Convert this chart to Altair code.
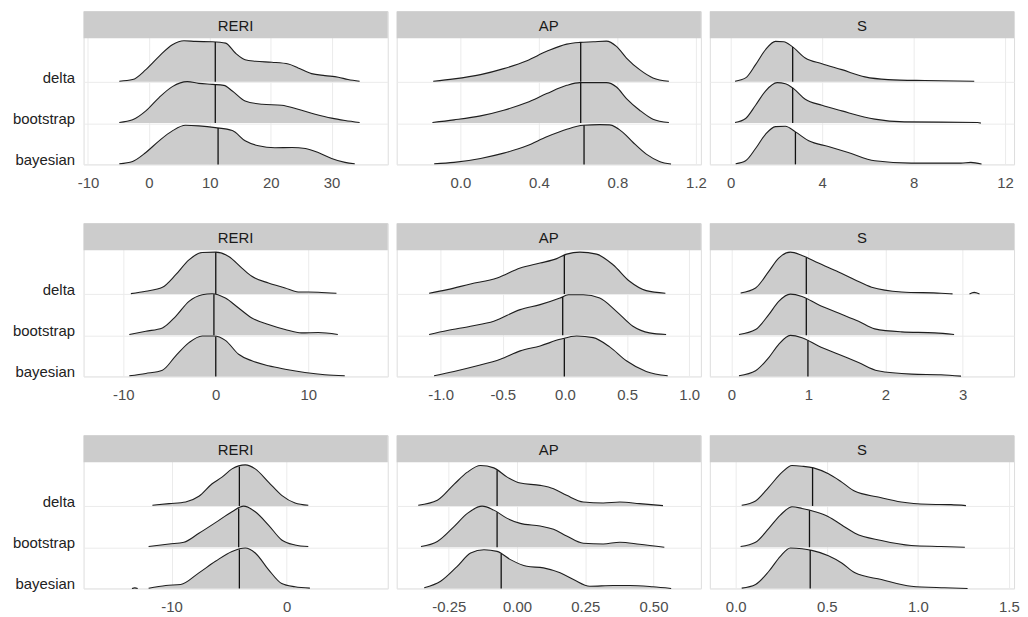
import altair as alt
import pandas as pd
import numpy as np

# ---------------- data (x value, relative ridge height) ----------------
METHODS = ["delta", "bootstrap", "bayesian"]
BASE = {"delta": 2, "bootstrap": 1, "bayesian": 0}
RIDGE_UNIT = 41.5  # ridge heights below are given on this scale (1 unit = gap between ridges)

# Row 1
r1_reri_delta = [[(-4.86, 0.7), (-2.68, 2.3), (-0.5, 12.3), (1.67, 25.7), (3.85, 37.3), (5.76, 41.3), (7.67, 40.7), (10.4, 40.3), (12.6, 39), (14.2, 29), (15.8, 22.3), (17.5, 20.7), (20.2, 19.7), (22.9, 18), (24.5, 14), (26.7, 8.3), (28.9, 6.3), (31.1, 4.7), (32.7, 2.3), (34.6, 0.7)]]
r1_reri_boot = [[(-4.86, 0.7), (-2.68, 3.3), (-0.5, 12.3), (1.67, 25.7), (3.85, 36.7), (6.3, 41.7), (8.2, 40), (10.4, 39), (12.3, 38), (13.7, 32.3), (15.8, 22.3), (18.6, 19), (21.8, 18), (24.5, 14), (27.3, 9), (30, 5), (32.2, 2.7), (34.6, 0.7)]]
r1_reri_bayes = [[(-4.86, 0.7), (-2.68, 3), (-0.5, 12), (1.67, 23.7), (3.85, 33.7), (6.0, 39.3), (8.2, 38.7), (10.9, 37), (13.7, 34), (15.8, 23.7), (18.0, 18.7), (20.7, 16.7), (23.5, 17), (25.7, 16), (27.8, 12), (30, 6), (32.2, 2), (33.8, 0.7)]]
r1_reri_median = [10.9, 10.9, 11.36]

r1_ap_delta = [[(-0.138, 0.7), (-0.032, 3), (0.103, 7.3), (0.221, 13.3), (0.339, 21.3), (0.44, 30.7), (0.542, 38), (0.609, 39.7), (0.677, 40.3), (0.744, 41), (0.795, 35.7), (0.846, 24), (0.913, 12.3), (0.981, 4), (1.062, 0.7)]]
r1_ap_boot = [[(-0.142, 0.7), (-0.032, 3.3), (0.103, 7.3), (0.221, 13), (0.339, 20.7), (0.44, 29.7), (0.542, 38), (0.609, 40.7), (0.677, 40.7), (0.744, 40.7), (0.795, 36.3), (0.846, 24.7), (0.913, 13), (0.981, 4), (1.062, 0.7)]]
r1_ap_bayes = [[(-0.133, 0.7), (-0.032, 2), (0.103, 6), (0.221, 11.3), (0.339, 18.7), (0.44, 27.7), (0.542, 35.3), (0.626, 39.3), (0.71, 40), (0.761, 39.7), (0.829, 32), (0.88, 22), (0.947, 10.3), (1.014, 3), (1.073, 0.3)]]
r1_ap_median = [0.613, 0.613, 0.63]

r1_s_delta = [[(0.188, 0.7), (0.652, 4), (1.087, 17.3), (1.52, 32.3), (1.957, 40.7), (2.32, 40.3), (2.68, 35.7), (3.26, 24), (3.99, 18.3), (4.86, 12.3), (5.87, 5), (6.88, 2.3), (8.48, 1.3), (10.65, 0.7)]]
r1_s_boot = [[(0.188, 0.7), (0.652, 4.7), (1.087, 18), (1.52, 32.3), (2.03, 40.7), (2.39, 39.7), (2.75, 34.7), (3.26, 24), (3.99, 18), (4.86, 12.3), (6.3, 4), (7.6, 1.3), (10.8, 0.7), (10.94, 0)]]
r1_s_bayes = [[(0.217, 0.7), (0.652, 3.7), (1.087, 16), (1.52, 30.3), (1.957, 38), (2.39, 38.3), (2.83, 32.7), (3.41, 23.7), (4.27, 18), (5.14, 12), (6.3, 3.7), (7.9, 1.3), (10.07, 1.3), (10.5, 2), (10.97, 0.3)]]
r1_s_median = [2.71, 2.71, 2.83]

# Row 2
r2_reri_delta = [[(-9.18, 0.3), (-7.56, 2.7), (-5.77, 6.7), (-4.33, 19.3), (-2.9, 34.3), (-1.47, 41.7), (-0.04, 42), (1.4, 37.7), (2.83, 26), (3.9, 17.7), (5.7, 11), (7.5, 6), (8.92, 2), (11.08, 1.7), (13.05, 0.7)]]
r2_reri_boot = [[(-9.35, 0.7), (-7.56, 4), (-5.77, 7.3), (-4.33, 19), (-2.9, 34), (-1.47, 40.7), (-0.4, 41.7), (1.04, 37.3), (2.47, 27.3), (3.9, 17.3), (5.7, 10.7), (7.5, 5.7), (9.28, 2.3), (11.08, 2.7), (13.2, 0.7)]]
r2_reri_bayes = [[(-9.35, 0.7), (-7.56, 3), (-5.77, 6.3), (-4.33, 20.7), (-2.9, 34), (-1.47, 40.7), (-0.2, 40.7), (1.04, 36.3), (2.47, 22.3), (3.9, 15.7), (5.7, 10.7), (7.5, 7.3), (9.64, 4), (11.8, 1.7), (13.95, 0.7)]]
r2_reri_median = [0.0, -0.2, 0.0]

r2_ap_delta = [[(-1.093, 0.7), (-0.946, 4.3), (-0.76, 10), (-0.546, 16), (-0.36, 26), (-0.2, 31), (-0.066, 35.5), (0.014, 40), (0.12, 42), (0.254, 40), (0.387, 29.3), (0.52, 12.7), (0.654, 3.3), (0.808, 0.7)]]
r2_ap_boot = [[(-1.093, 0.7), (-0.946, 4.7), (-0.76, 9), (-0.573, 14), (-0.36, 25.7), (-0.2, 30.7), (-0.04, 37.3), (0.027, 40.7), (0.147, 40.7), (0.28, 37.3), (0.414, 24), (0.547, 9), (0.68, 2.3), (0.814, 0.7)]]
r2_ap_bayes = [[(-1.053, 0.7), (-0.893, 5), (-0.706, 10.7), (-0.52, 17.3), (-0.36, 25.7), (-0.2, 30.7), (-0.04, 37.3), (0.094, 40.7), (0.227, 39), (0.36, 29.7), (0.494, 15.7), (0.654, 5), (0.827, 0.7)]]
r2_ap_median = [-0.005, -0.018, -0.005]

r2_s_delta = [[(0.12, 1), (0.314, 6), (0.485, 22.7), (0.614, 36), (0.765, 42), (0.916, 38.7), (1.13, 31), (1.39, 22), (1.6, 14.3), (1.82, 6.7), (2.21, 2), (2.72, 0.7), (2.87, 0)],
              [(3.09, 0), (3.15, 1.5), (3.22, 0)]]
r2_s_boot = [[(0.098, 0.7), (0.314, 5.7), (0.485, 20.7), (0.614, 34), (0.765, 41.3), (0.916, 39), (1.13, 30.7), (1.39, 22.3), (1.65, 14), (1.86, 6.3), (2.21, 3.3), (2.64, 2.3), (2.89, 0.7)]]
r2_s_bayes = [[(0.098, 0.7), (0.314, 5.7), (0.485, 19), (0.614, 32.3), (0.765, 41.3), (0.916, 39), (1.13, 30.7), (1.39, 22.3), (1.65, 14), (1.9, 5.7), (2.34, 2.3), (2.72, 1.7), (2.98, 0.3)]]
r2_s_median = [0.972, 0.972, 0.993]

# Row 3
r3_reri_delta = [[(-11.67, 0.7), (-10.22, 2.3), (-8.78, 4), (-7.63, 9.7), (-6.48, 22.3), (-5.62, 29), (-4.75, 37.3), (-3.6, 41.3), (-2.73, 37.3), (-1.58, 24), (-0.43, 10.7), (0.73, 3), (1.88, 0.7)]]
r3_reri_boot = [[(-12.0, 0.7), (-10.22, 3.3), (-8.93, 5), (-7.63, 14), (-6.19, 24.7), (-4.75, 35.7), (-3.74, 41.3), (-2.73, 35.7), (-1.58, 22.3), (-0.43, 7.3), (0.73, 2.3), (1.88, 0.7)]]
r3_reri_bayes = [[(-12.0, 0.3), (-10.5, 3), (-9.21, 4), (-7.63, 15.7), (-6.19, 27.3), (-4.75, 37.3), (-3.6, 40.7), (-2.73, 35.7), (-1.58, 19), (-0.43, 5), (0.73, 1.7), (2.02, 0.3)],
                 [(-13.45, 0), (-13.2, 0.6), (-12.95, 0)]]
r3_reri_median = [-4.11, -4.17, -4.11]

r3_ap_delta = [[(-0.362, 0.7), (-0.292, 5.7), (-0.231, 21.7), (-0.182, 34), (-0.134, 40.7), (-0.085, 38.3), (-0.036, 29), (0.012, 23), (0.085, 20.7), (0.134, 17.3), (0.182, 10.7), (0.243, 4), (0.316, 3), (0.377, 4), (0.449, 2.3), (0.535, 0.3)]]
r3_ap_boot = [[(-0.352, 0.7), (-0.292, 5.7), (-0.231, 20.7), (-0.182, 34), (-0.128, 41.3), (-0.085, 37.3), (-0.036, 29), (0.012, 24), (0.085, 21.3), (0.134, 18), (0.182, 11.3), (0.243, 4), (0.316, 3.3), (0.377, 5), (0.449, 3), (0.54, 0)]]
r3_ap_bayes = [[(-0.34, 0.7), (-0.28, 7.3), (-0.219, 22.3), (-0.17, 35.7), (-0.121, 39), (-0.073, 37.3), (-0.024, 29), (0.036, 22.3), (0.097, 20.7), (0.158, 15.7), (0.207, 9), (0.267, 2.3), (0.352, 3), (0.413, 3), (0.498, 1.7), (0.565, 0)]]
r3_ap_median = [-0.073, -0.073, -0.058]

r3_s_delta = [[(0.033, 0.7), (0.109, 5), (0.182, 19), (0.255, 34), (0.309, 40.7), (0.364, 40), (0.427, 38.3), (0.509, 32.3), (0.582, 24), (0.655, 14.7), (0.782, 9), (0.909, 4), (1.055, 1.7), (1.182, 1.3), (1.264, 0.3)]]
r3_s_boot = [[(0.027, 0.7), (0.109, 5), (0.182, 19), (0.245, 32.3), (0.309, 40.7), (0.364, 39), (0.436, 35.7), (0.509, 30.7), (0.582, 22.3), (0.655, 14), (0.8, 6.7), (0.964, 1.7), (1.127, 0.7), (1.258, 0)]]
r3_s_bayes = [[(0.033, 0.3), (0.109, 4), (0.182, 17.3), (0.245, 32.3), (0.3, 40.7), (0.364, 40), (0.418, 38.3), (0.509, 33), (0.582, 25.7), (0.655, 15.7), (0.8, 9), (0.964, 2.3), (1.146, 0.7), (1.273, 0)]]
r3_s_median = [0.422, 0.405, 0.409]

# axis ranges and tick labels per panel
r1_domains = [[-10.73, 39.22], [-0.324, 1.225], [-0.913, 12.391]]
r2_domains = [[-14.301, 18.602], [-1.354, 1.094], [-0.280, 3.668]]
r3_domains = [[-17.658, 8.790], [-0.441, 0.674], [-0.142, 1.528]]
r1_ticks = [[-10, 0, 10, 20, 30], [0.0, 0.4, 0.8, 1.2], [0, 4, 8, 12]]
r2_ticks = [[-10, 0, 10], [-1.0, -0.5, 0.0, 0.5, 1.0], [0, 1, 2, 3]]
r3_ticks = [[-10, 0], [-0.25, 0.0, 0.25, 0.50], [0.0, 0.5, 1.0, 1.5]]
r1_fmt = ["d", ".1f", "d"]
r2_fmt = ["d", ".1f", "d"]
r3_fmt = ["d", ".2f", ".1f"]
MEASURES = ["RERI", "AP", "S"]

# ---------------- styling ----------------
FONT = "Liberation Sans"
FILL = "#cccccc"
STRIP = "#cccccc"
GRID = "#ebebeb"
LINE = "#1e1e1e"
PANEL_W = 306
PANEL_H = 154
STRIP_H = 27


def ridge_frame(segments, base):
    rows = []
    for i, seg in enumerate(segments):
        for x, h in seg:
            rows.append({"x": x, "top": base + h / RIDGE_UNIT, "base": base, "seg": i})
    return pd.DataFrame(rows)


def make_panel(title, ridges, medians, domain, ticks, fmt, show_y):
    xscale = alt.Scale(domain=domain, nice=False, zero=False)
    yscale = alt.Scale(domain=[0, PANEL_H / RIDGE_UNIT], nice=False, zero=False)
    xaxis = alt.Axis(
        values=ticks,
        labelExpr="replace(format(datum.value, '" + fmt + "'), '\u2212', '-')",
        grid=True, gridColor=GRID, gridWidth=1, domain=False, ticks=False, tickSize=0,
        labelPadding=11, labelFlush=False, labelOverlap=False, labelBound=False,
        labelColor="#4d4d4d", labelFontSize=15, labelFont=FONT, title=None,
    )
    yaxis = alt.Axis(
        values=[0, 1, 2],
        labelExpr="datum.value == 2 ? 'delta' : datum.value == 1 ? 'bootstrap' : 'bayesian'",
        labels=show_y, grid=True, gridColor=GRID, gridWidth=1, domain=False, ticks=False,
        tickSize=0, labelPadding=9, labelAlign="right", labelBaseline="alphabetic",
        labelOffset=0.5, labelColor="#222222", labelFontSize=15, labelFont=FONT, title=None,
    )
    strip_data = alt.Data(values=[{"label": title}])
    layers = [
        alt.Chart(strip_data).mark_rect(color=STRIP, opacity=1).encode(
            x=alt.value(0), x2=alt.value(PANEL_W), y=alt.value(0), y2=alt.value(STRIP_H)
        ),
        alt.Chart(strip_data).mark_text(font=FONT, fontSize=15, color="#1a1a1a", baseline="middle").encode(
            x=alt.value(PANEL_W / 2), y=alt.value(STRIP_H / 2 + 1), text="label:N"
        ),
    ]
    for name, segs, med in zip(METHODS, ridges, medians):
        base = BASE[name]
        df = ridge_frame(segs, base)
        area = alt.Chart(df).mark_area(
            color=FILL, opacity=1, interpolate="monotone",
            line={"color": LINE, "strokeWidth": 1.1},
        ).encode(
            x=alt.X("x:Q", scale=xscale, axis=xaxis),
            y=alt.Y("top:Q", scale=yscale, axis=yaxis, stack=None),
            y2="base:Q",
            detail="seg:N",
        )
        main = segs[0]
        hm = float(np.interp(med, [p[0] for p in main], [p[1] for p in main]))
        mdf = pd.DataFrame({"x": [med], "top": [base + hm / RIDGE_UNIT], "base": [base]})
        rule = alt.Chart(mdf).mark_rule(color="#111111", strokeWidth=1.3).encode(
            x=alt.X("x:Q", scale=xscale, axis=xaxis),
            y=alt.Y("top:Q", scale=yscale, axis=yaxis),
            y2="base:Q",
        )
        layers += [area, rule]
    return alt.layer(*layers).properties(width=PANEL_W, height=PANEL_H)


rows = [
    ([r1_reri_delta, r1_reri_boot, r1_reri_bayes], [r1_ap_delta, r1_ap_boot, r1_ap_bayes], [r1_s_delta, r1_s_boot, r1_s_bayes],
     [r1_reri_median, r1_ap_median, r1_s_median], r1_domains, r1_ticks, r1_fmt),
    ([r2_reri_delta, r2_reri_boot, r2_reri_bayes], [r2_ap_delta, r2_ap_boot, r2_ap_bayes], [r2_s_delta, r2_s_boot, r2_s_bayes],
     [r2_reri_median, r2_ap_median, r2_s_median], r2_domains, r2_ticks, r2_fmt),
    ([r3_reri_delta, r3_reri_boot, r3_reri_bayes], [r3_ap_delta, r3_ap_boot, r3_ap_bayes], [r3_s_delta, r3_s_boot, r3_s_bayes],
     [r3_reri_median, r3_ap_median, r3_s_median], r3_domains, r3_ticks, r3_fmt),
]

panels = []
for reri, ap, s, meds, doms, tks, fmts in rows:
    for j, ridges in enumerate([reri, ap, s]):
        panels.append(make_panel(MEASURES[j], ridges, meds[j], doms[j], tks[j], fmts[j], j == 0))

chart = alt.concat(
    *panels, columns=3, spacing={"row": 59.3, "column": 9}, bounds="flush"
).properties(
    padding={"left": 3, "top": 0.5, "right": 0, "bottom": 0}
).configure_view(stroke=None).configure(background="white")

chart.save("out.html", embed_options={"renderer": "svg", "actions": False})
